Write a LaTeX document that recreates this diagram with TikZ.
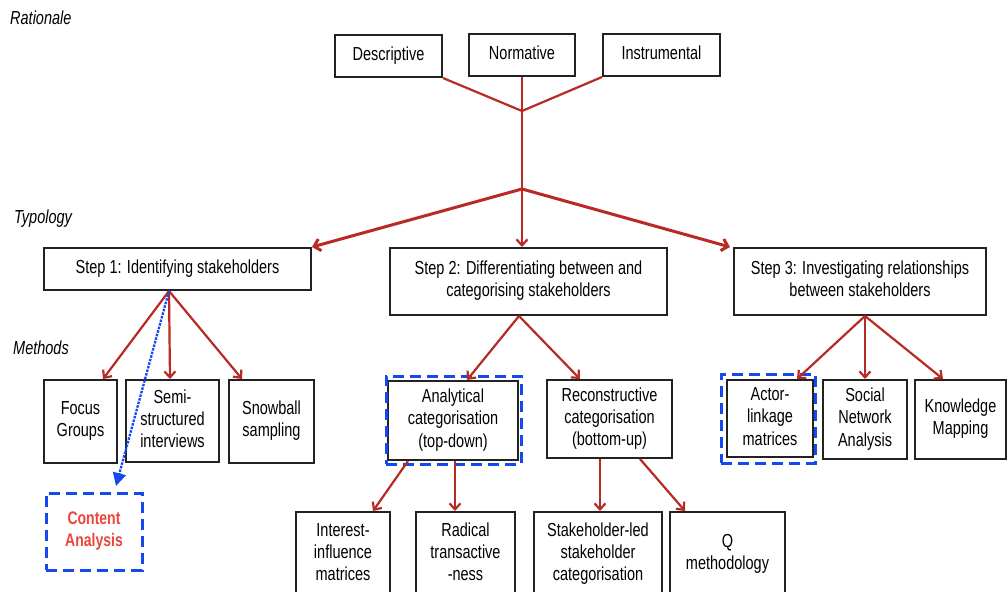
\documentclass[tikz,border=0pt]{standalone}
\usepackage{fontspec}
\usepackage{graphicx}
\setmainfont{Liberation Sans}
\usetikzlibrary{arrows.meta,fit,calc}
\definecolor{arrred}{RGB}{185,42,36}
\definecolor{dashblue}{RGB}{22,72,240}
\definecolor{txtred}{RGB}{236,70,60}
\definecolor{boxline}{RGB}{34,34,34}
\newcommand{\vtxt}[1]{\scalebox{1}[1.3]{\begin{tabular}{@{}c@{}}#1\end{tabular}}}
\tikzset{
  box/.style={draw=boxline, line width=2pt, rectangle, align=center, inner sep=0pt,
    font=\fontsize{14.5}{17}\selectfont},
  lab/.style={anchor=west, inner sep=0pt, font=\fontsize{14.5}{17}\selectfont\itshape},
  conn/.style={draw=arrred, line width=2.2pt},
  arr/.style={draw=arrred, line width=2.2pt, -{Straight Barb[length=6pt,width=11pt]}},
  thickarr/.style={draw=arrred, line width=3pt, -{Straight Barb[length=6pt,width=12pt]}},
  bluebox/.style={draw=dashblue, line width=3pt, dash pattern=on 11pt off 6pt, rectangle, inner sep=0pt},
  bluearr/.style={draw=dashblue, line width=2.3pt, dash pattern=on 2.5pt off 1.2pt, -{Triangle[length=13pt,width=13pt]}}
}
\begin{document}
\begin{tikzpicture}[x=1pt,y=-1pt]
\useasboundingbox[fill=white] (0,0) rectangle (1008,591);

% section labels
\node[lab] (lrat) at (10,18) {\scalebox{1}[1.3]{Rationale}};
\node[lab] (ltyp) at (14,219) {\scalebox{1}[1.3]{Typology}};
\node[lab] (lmet) at (13,348) {\scalebox{1}[1.3]{Methods}};

% rationale
\node[box, minimum width=107pt, minimum height=42pt] (desc) at (388.5,56) {\vtxt{Descriptive}};
\node[box, minimum width=106pt, minimum height=42pt] (norm) at (522,55) {\vtxt{Normative}};
\node[box, minimum width=117pt, minimum height=42pt] (instr) at (661.5,55) {\vtxt{Instrumental}};
\coordinate (j1) at (522,111);
\coordinate (j2) at (522,189);

% steps
\node[box, minimum width=267pt, minimum height=42pt] (step1) at (177.5,269) {\vtxt{Step 1: Identifying stakeholders}};
\node[box, minimum width=277pt, minimum height=67pt] (step2) at (528.5,281.5) {\vtxt{Step 2: Differentiating between and\\categorising stakeholders}};
\node[box, minimum width=252pt, minimum height=67pt] (step3) at (860,281.5) {\vtxt{Step 3: Investigating relationships\\between stakeholders}};

% methods
\node[box, minimum width=73pt, minimum height=83pt] (fg) at (80.5,421.5) {\vtxt{Focus\\Groups}};
\node[box, minimum width=93pt, minimum height=82pt] (semi) at (172.5,421) {\vtxt{Semi-\\structured\\interviews}};
\node[box, minimum width=85pt, minimum height=83pt] (snow) at (271.5,421.5) {\vtxt{Snowball\\sampling}};
\node[box, minimum width=130pt, minimum height=79pt] (ana) at (453,420.5) {\vtxt{Analytical\\categorisation\\(top-down)}};
\node[box, minimum width=125pt, minimum height=78pt] (rec) at (609.5,419) {\vtxt{Reconstructive\\categorisation\\(bottom-up)}};
\node[box, minimum width=86pt, minimum height=77pt] (actor) at (770,418.5) {\vtxt{Actor-\\linkage\\matrices}};
\node[box, minimum width=84pt, minimum height=79pt] (sna) at (865,419.5) {\vtxt{Social\\Network\\Analysis}};
\node[box, minimum width=91pt, minimum height=79pt] (km) at (960.5,419.5) {\vtxt{Knowledge\\Mapping}};

% bottom row
\node[box, minimum width=94pt, minimum height=84pt] (int) at (343,554) {\vtxt{Interest-\\influence\\matrices}};
\node[box, minimum width=99pt, minimum height=84pt] (rad) at (465.5,554) {\vtxt{Radical\\transactive\\-ness}};
\node[box, minimum width=128pt, minimum height=84pt] (sl) at (598,554) {\vtxt{Stakeholder-led\\stakeholder\\categorisation}};
\node[box, minimum width=115pt, minimum height=84pt] (q) at (727.5,554) {\vtxt{Q\\methodology\\ }};

% highlighted (blue dashed)
\node[bluebox, fit={(386,376) (521,464)}] (anahl) {};
\node[bluebox, fit={(721,374) (815,463)}] (actorhl) {};
\node[bluebox, minimum width=96pt, minimum height=77pt, align=center, text=txtred,
  font=\fontsize{14}{17}\selectfont\bfseries] (ca) at (94,531.5) {\vtxt{Content\\Analysis}};
\coordinate (catip) at (116,486);

% rationale connectors
\draw[conn] (desc.south east) -- (j1);
\draw[conn] (norm.south) -- (j1);
\draw[conn] (instr.south west) -- (j1);
\draw[conn] (j1) -- (j2);
\draw[thickarr] (j2) -- (step1.north east);
\draw[arr] (j2) -- ([xshift=-6.5pt]step2.north);
\draw[thickarr] (j2) -- ([xshift=-3pt]step3.north west);

% step 1
\draw[arr] ([xshift=-8.5pt]step1.south) -- ([xshift=22.5pt]fg.north);
\draw[arr] ([xshift=-8.5pt]step1.south) -- ([xshift=-2.5pt]semi.north);
\draw[arr] ([xshift=-8.5pt]step1.south) -- ([xshift=-29.5pt]snow.north);
\draw[bluearr] ([xshift=-8.5pt]step1.south) -- (catip);

% step 2
\draw[arr] ([xshift=-9.5pt]step2.south) -- ([xshift=14pt]ana.north);
\draw[arr] ([xshift=-9.5pt]step2.south) -- ([xshift=-29.5pt]rec.north);
\draw[arr] ([xshift=-45pt]ana.south) -- ([xshift=30pt]int.north);
\draw[arr] ([xshift=2pt]ana.south) -- ([xshift=-10.5pt]rad.north);
\draw[arr] ([xshift=-9.5pt]rec.south) -- ([xshift=2pt]sl.north);
\draw[arr] ([xshift=30.5pt]rec.south) -- ([xshift=-42.5pt]q.north);

% step 3
\draw[arr] ([xshift=5pt]step3.south) -- ([xshift=27pt]actor.north);
\draw[arr] ([xshift=5pt]step3.south) -- (sna.north);
\draw[arr] ([xshift=5pt]step3.south) -- ([xshift=-17.5pt]km.north);
\end{tikzpicture}
\end{document}
